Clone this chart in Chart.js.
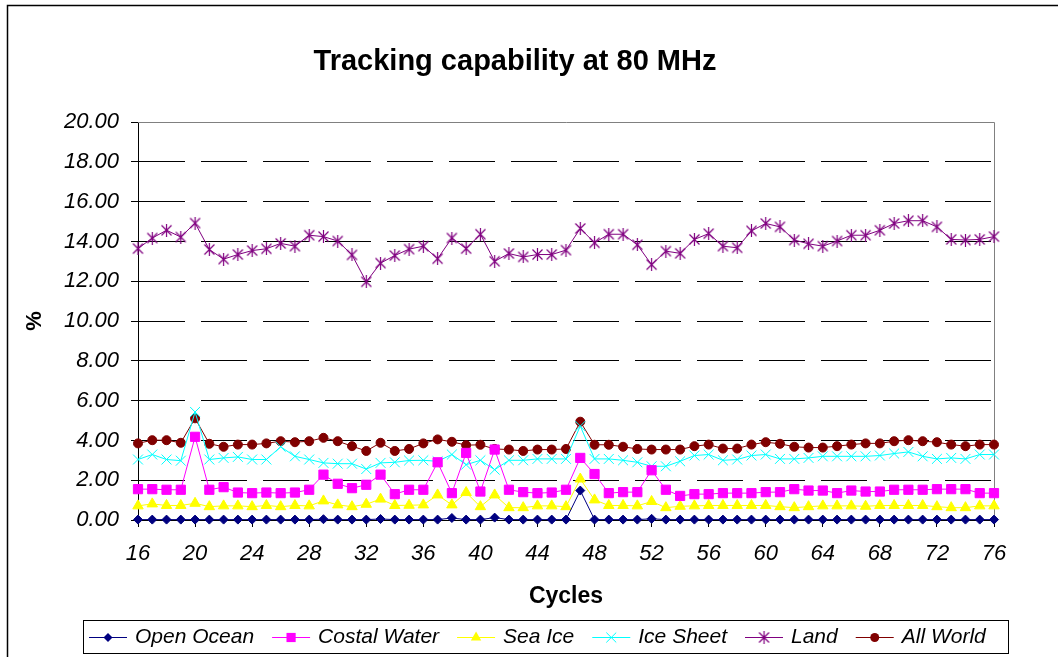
<!DOCTYPE html>
<html>
<head>
<meta charset="utf-8">
<script src="https://cdn.jsdelivr.net/npm/chart.js@4.4.1/dist/chart.umd.min.js"></script>
<style>
  html, body { margin: 0; padding: 0; background: #fff; }
</style>
</head>
<body>
<canvas id="trackChart" width="1058" height="657"></canvas>
<script>
// Datos (ciclos 16 a 76)
const cycles = [16,17,18,19,20,21,22,23,24,25,26,27,28,29,30,31,32,33,34,35,
                36,37,38,39,40,41,42,43,44,45,46,47,48,49,50,51,52,53,54,55,
                56,57,58,59,60,61,62,63,64,65,66,67,68,69,70,71,72,73,74,75,76];

const openOcean = [0.02,0.02,0.02,0.02,0.02,0.02,0.02,0.02,0.02,0.02,0.02,0.02,0.02,0.04,0.02,0.02,0.02,0.05,0.02,0.02,
                   0.02,0.02,0.10,0.02,0.02,0.12,0.02,0.02,0.02,0.02,0.02,1.48,0.02,0.02,0.02,0.02,0.06,0.02,0.02,0.02,
                   0.02,0.02,0.02,0.02,0.02,0.02,0.02,0.02,0.02,0.02,0.02,0.02,0.02,0.02,0.02,0.02,0.02,0.02,0.02,0.02,0.02];

const costalWater = [1.55,1.55,1.52,1.52,4.18,1.52,1.65,1.38,1.35,1.38,1.35,1.38,1.52,2.28,1.82,1.60,1.77,2.28,1.30,1.52,
                     1.52,2.90,1.35,3.37,1.43,3.54,1.52,1.40,1.35,1.38,1.52,3.12,2.31,1.35,1.40,1.40,2.50,1.52,1.21,1.30,
                     1.30,1.35,1.35,1.35,1.40,1.40,1.55,1.48,1.48,1.35,1.48,1.43,1.43,1.52,1.52,1.52,1.55,1.55,1.55,1.35,1.35];

const seaIce = [0.71,0.81,0.73,0.73,0.84,0.67,0.71,0.71,0.67,0.73,0.67,0.73,0.71,0.96,0.76,0.67,0.79,1.05,0.73,0.74,
                0.76,1.26,0.76,1.38,0.67,1.26,0.62,0.62,0.71,0.71,0.67,2.06,1.01,0.73,0.73,0.71,0.93,0.62,0.69,0.71,
                0.73,0.73,0.73,0.73,0.73,0.67,0.62,0.67,0.71,0.71,0.71,0.69,0.73,0.73,0.73,0.73,0.67,0.62,0.62,0.71,0.71];

const iceSheet = [3.04,3.29,3.04,2.98,5.43,3.04,3.12,3.17,3.04,3.04,3.68,3.20,3.04,2.87,2.83,2.83,2.56,2.87,2.90,2.99,
                  3.00,2.95,3.29,2.78,3.00,2.53,3.00,3.00,3.07,3.07,3.07,4.72,3.07,3.07,3.00,2.90,2.70,2.70,2.95,3.24,
                  3.29,3.00,3.04,3.24,3.29,3.07,3.07,3.12,3.20,3.20,3.20,3.20,3.24,3.34,3.42,3.20,3.07,3.12,3.07,3.29,3.29];

const land = [13.64,14.17,14.56,14.22,14.92,13.59,13.11,13.34,13.54,13.63,13.90,13.76,14.31,14.24,14.02,13.32,11.97,12.91,13.29,13.61,
              13.76,13.13,14.17,13.64,14.36,13.00,13.39,13.22,13.34,13.34,13.56,14.65,13.93,14.36,14.36,13.83,12.83,13.51,13.40,14.10,
              14.39,13.76,13.68,14.53,14.90,14.73,14.07,13.88,13.76,14.02,14.31,14.31,14.56,14.90,15.04,15.04,14.73,14.10,14.07,14.10,14.24];

const allWorld = [3.85,4.01,4.01,3.88,5.11,3.83,3.68,3.79,3.79,3.85,3.96,3.91,3.96,4.13,3.96,3.71,3.47,3.88,3.47,3.57,
                  3.85,4.05,3.93,3.76,3.78,3.57,3.54,3.47,3.54,3.54,3.57,4.94,3.78,3.78,3.68,3.57,3.54,3.54,3.54,3.71,
                  3.79,3.59,3.59,3.79,3.91,3.83,3.68,3.64,3.64,3.71,3.79,3.85,3.85,3.96,4.01,3.96,3.91,3.79,3.71,3.79,3.79];

const yTicks = [0, 2, 4, 6, 8, 10, 12, 14, 16, 18, 20];

const FONT = '"Liberation Sans", Arial, Helvetica, sans-serif';
Chart.defaults.font.family = FONT;
Chart.defaults.color = '#000';

// marcador asterisco para Land
function asterisk(color) {
  const c = document.createElement('canvas');
  c.width = 13; c.height = 13;
  const g = c.getContext('2d');
  g.strokeStyle = color;
  g.lineWidth = 1.2;
  g.beginPath();
  g.moveTo(1.5, 1.5); g.lineTo(11.5, 11.5);
  g.moveTo(11.5, 1.5); g.lineTo(1.5, 11.5);
  g.moveTo(6.5, 0); g.lineTo(6.5, 13);
  g.stroke();
  return c;
}

function serie(label, values, color, pointStyle, radius) {
  return {
    label: label,
    data: values.map((v, i) => ({ x: cycles[i], y: v })),
    borderColor: color,
    backgroundColor: color,
    pointBackgroundColor: color,
    pointBorderColor: color,
    pointStyle: pointStyle,
    pointRadius: radius,
    pointHoverRadius: radius,
    pointBorderWidth: 1,
    borderWidth: 1,
    tension: 0,
    clip: false
  };
}

function drawMarker(ctx, style, x, y, r, color) {
  ctx.save();
  ctx.fillStyle = color;
  ctx.strokeStyle = color;
  ctx.lineWidth = 1;
  if (style instanceof HTMLCanvasElement) {
    ctx.drawImage(style, x - style.width / 2, y - style.height / 2);
    ctx.restore();
    return;
  }
  ctx.beginPath();
  if (style === 'rectRot') {
    ctx.moveTo(x, y - r); ctx.lineTo(x + r, y); ctx.lineTo(x, y + r); ctx.lineTo(x - r, y);
    ctx.closePath(); ctx.fill();
  } else if (style === 'rect') {
    const s = r * Math.SQRT1_2;
    ctx.rect(x - s, y - s, 2 * s, 2 * s); ctx.fill();
  } else if (style === 'triangle') {
    const w = r * Math.sin(Math.PI / 3);
    ctx.moveTo(x, y - r); ctx.lineTo(x + w, y + r / 2); ctx.lineTo(x - w, y + r / 2);
    ctx.closePath(); ctx.fill();
  } else if (style === 'crossRot') {
    const d = r * Math.SQRT1_2;
    ctx.moveTo(x - d, y - d); ctx.lineTo(x + d, y + d);
    ctx.moveTo(x + d, y - d); ctx.lineTo(x - d, y + d);
    ctx.stroke();
  } else {
    ctx.arc(x, y, r, 0, Math.PI * 2); ctx.fill();
  }
  ctx.restore();
}

// marco, titulo y leyenda al estilo Excel
const excelFrame = {
  id: 'excelFrame',
  beforeDraw(chart) {
    const ctx = chart.ctx;
    ctx.save();
    ctx.fillStyle = '#fff';
    ctx.fillRect(0, 0, chart.width, chart.height);
    ctx.strokeStyle = '#000';
    ctx.lineWidth = 1.5;
    ctx.beginPath();
    ctx.moveTo(7.5, chart.height + 5); ctx.lineTo(7.5, 5.5); ctx.lineTo(chart.width + 5, 5.5);
    ctx.stroke();
    ctx.font = 'bold 29px ' + FONT;
    ctx.textAlign = 'center';
    ctx.textBaseline = 'middle';
    ctx.fillStyle = '#000';
    ctx.fillText('Tracking capability at 80 MHz', 515, 62);
    ctx.restore();
  },
  beforeDatasetsDraw(chart) {
    const { ctx, chartArea: a } = chart;
    ctx.save();
    ctx.strokeStyle = '#808080';
    ctx.lineWidth = 1;
    ctx.beginPath();
    ctx.moveTo(a.left, a.top + 0.5); ctx.lineTo(a.right + 0.5, a.top + 0.5); ctx.lineTo(a.right + 0.5, a.bottom);
    ctx.stroke();
    ctx.restore();
  },
  afterDraw(chart) {
    const ctx = chart.ctx;
    const box = { left: 83, top: 620, right: 1008, bottom: 653 };
    const cy = 637;
    ctx.save();
    ctx.strokeStyle = '#000';
    ctx.lineWidth = 1;
    ctx.strokeRect(box.left + 0.5, box.top + 0.5, box.right - box.left, box.bottom - box.top);
    ctx.font = 'italic 21px ' + FONT;
    ctx.textBaseline = 'middle';
    ctx.textAlign = 'left';
    let x = 89;
    chart.data.datasets.forEach(ds => {
      ctx.strokeStyle = ds.borderColor;
      ctx.lineWidth = 1;
      ctx.beginPath();
      ctx.moveTo(x, cy + 0.5); ctx.lineTo(x + 38, cy + 0.5);
      ctx.stroke();
      drawMarker(ctx, ds.pointStyle, x + 19, cy + 0.5, ds.pointRadius, ds.borderColor);
      ctx.fillStyle = '#000';
      ctx.fillText(ds.label, x + 46, cy);
      x += 46 + ctx.measureText(ds.label).width + 18;
    });
    ctx.restore();
  }
};

const ctx = document.getElementById('trackChart').getContext('2d');
new Chart(ctx, {
  type: 'line',
  data: {
    datasets: [
      serie('Open Ocean', openOcean, '#000080', 'rectRot', 4.5),
      serie('Costal Water', costalWater, '#FF00FF', 'rect', 6.5),
      serie('Sea Ice', seaIce, '#FFFF00', 'triangle', 6),
      serie('Ice Sheet', iceSheet, '#00FFFF', 'crossRot', 7),
      serie('Land', land, '#800080', asterisk('#800080'), 6),
      serie('All World', allWorld, '#800000', 'circle', 4.5)
    ]
  },
  options: {
    responsive: false,
    animation: false,
    events: [],
    layout: { padding: { left: 8, right: 64, top: 122, bottom: 47 } },
    plugins: {
      legend: { display: false },
      title: { display: false },
      tooltip: { enabled: false }
    },
    scales: {
      x: {
        type: 'linear',
        min: 16,
        max: 76,
        afterFit: s => { s.height = 90; },
        ticks: {
          stepSize: 4,
          padding: 14,
          font: { size: 22, style: 'italic' },
          maxRotation: 0
        },
        grid: { drawOnChartArea: false, drawTicks: true, tickLength: 7, color: '#000', tickColor: '#000' },
        border: { color: '#000', width: 1 },
        title: { display: true, text: 'Cycles', font: { size: 23, weight: 'bold' }, padding: { top: 0, bottom: 0 } }
      },
      y: {
        min: yTicks[0],
        max: yTicks[yTicks.length - 1],
        afterFit: s => { s.width = 130; },
        afterBuildTicks: s => { s.ticks = yTicks.map(v => ({ value: v })); },
        ticks: {
          padding: 12,
          font: { size: 22, style: 'italic' },
          callback: v => Number(v).toFixed(2)
        },
        grid: {
          tickLength: 7,
          tickColor: '#000',
          color: c => (c.tick && (c.tick.value === 0 || c.tick.value === 20)) ? 'rgba(0,0,0,0)' : '#000'
        },
        border: { color: '#000', width: 1, dash: [46, 16] },
        title: { display: true, text: '%', font: { size: 22, weight: 'bold' }, padding: { top: 14, bottom: 0 } }
      }
    }
  },
  plugins: [excelFrame]
});
</script>
</body>
</html>
